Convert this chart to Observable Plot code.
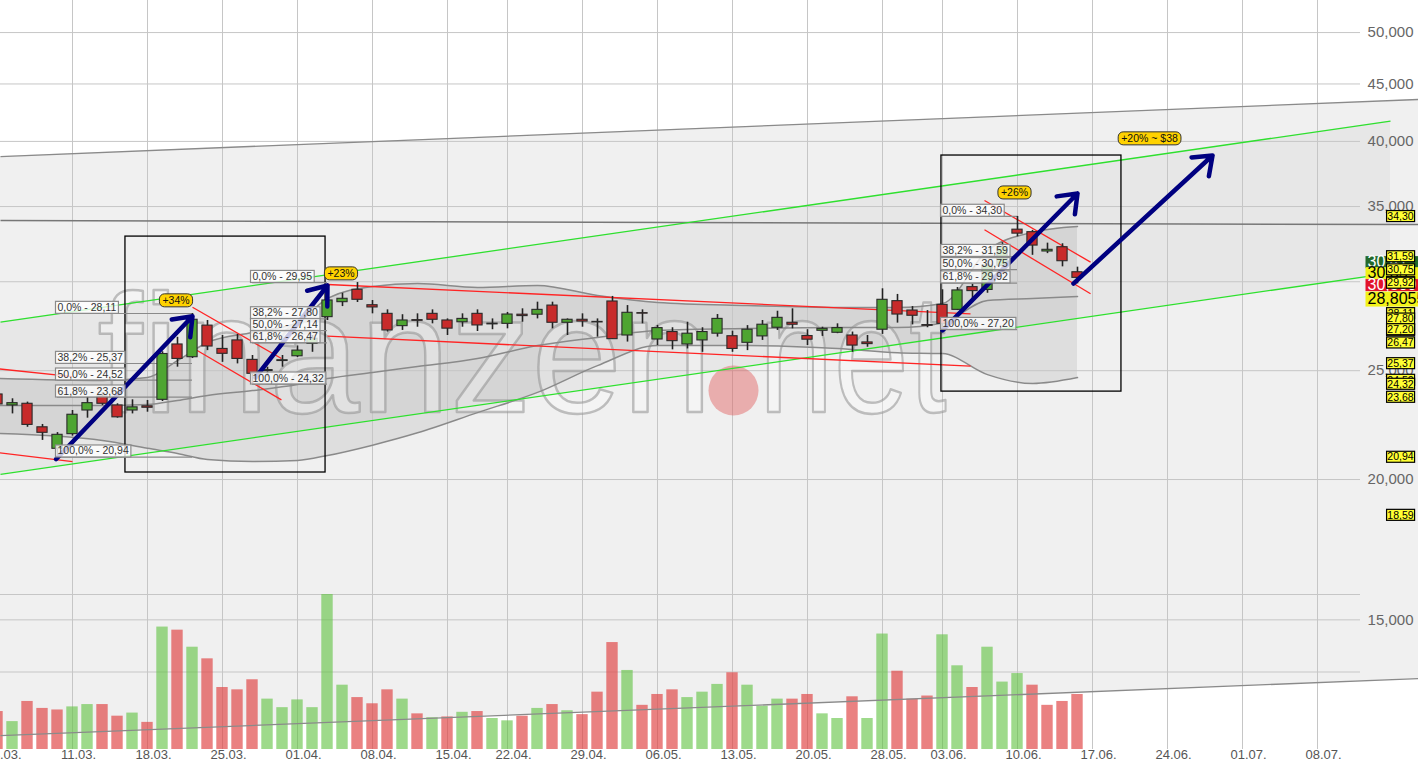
<!DOCTYPE html>
<html><head><meta charset="utf-8">
<script src="https://cdn.jsdelivr.net/npm/d3@7"></script>
<script src="https://cdn.jsdelivr.net/npm/@observablehq/plot@0.6"></script>
<style>
html,body{margin:0;padding:0;background:#fff;}
#chart{position:relative;width:1418px;height:764px;overflow:hidden;}
#chart svg{position:absolute;left:0;top:0;}
</style></head><body><div id="chart"></div>
<script>
// ---------- calendar ----------
const holidays = ["2019-04-19", "2019-05-27"];
const firstDay = "2019-03-04", lastDay = "2019-06-14";
const tickDates = ["2019-03-04","2019-03-11","2019-03-18","2019-03-25","2019-04-01","2019-04-08","2019-04-15","2019-04-22","2019-04-29","2019-05-06","2019-05-13","2019-05-20","2019-05-28","2019-06-03","2019-06-10","2019-06-17","2019-06-24","2019-07-01","2019-07-08"];

// ---------- OHLC + volume (one value per trading day) ----------
const open  = [23.81,23.28,23.36,22.26,21.30,21.95,23.04,23.71,23.28,23.04,23.24,23.55,26.38,25.70,27.42,26.14,26.60,25.56,24.98,25.50,25.75,26.42,27.90,28.77,29.51,28.59,28.09,27.39,27.73,28.09,27.71,27.61,28.09,27.49,27.52,28.04,28.04,28.57,27.58,27.75,27.63,28.81,26.87,28.13,26.65,27.06,26.38,26.60,26.97,26.83,26.47,26.82,27.30,27.58,26.84,27.13,27.02,26.87,26.49,27.19,28.83,28.28,27.45,28.61,28.32,29.67,29.50,31.00,33.38,33.21,31.92,32.20,30.59];
const high  = [23.95,23.60,23.44,22.39,22.02,23.04,23.68,23.90,23.36,23.55,23.52,25.99,26.77,28.11,27.71,26.87,26.93,25.79,25.18,25.79,26.30,26.87,29.07,29.30,29.95,28.87,28.32,28.04,28.09,28.32,27.80,28.09,28.32,27.80,28.17,28.38,28.77,28.77,27.80,28.09,27.80,29.11,28.57,28.32,27.43,27.30,27.61,27.30,28.05,27.11,27.42,27.71,28.24,28.38,27.19,27.33,27.52,27.06,26.87,29.57,29.23,28.51,28.28,29.51,29.65,29.84,31.30,32.50,34.30,33.33,32.47,32.43,30.91];
const low   = [23.23,22.88,22.26,21.67,20.94,21.86,22.68,23.28,22.68,22.88,22.96,23.47,25.18,25.63,26.05,25.43,25.35,24.32,24.68,25.18,25.68,25.96,27.71,28.51,28.75,28.09,27.06,27.15,27.33,27.52,26.87,27.33,27.09,27.19,27.24,27.61,27.80,27.24,26.87,27.33,26.78,26.65,26.51,27.52,26.32,26.09,26.14,25.96,26.78,25.96,26.05,26.60,27.15,27.24,26.32,26.82,26.97,25.96,26.23,26.93,27.56,27.46,27.30,27.20,28.28,28.87,29.30,30.80,32.89,31.67,31.78,30.93,29.87];
const close = [23.33,23.39,22.37,22.01,21.92,22.84,23.39,23.36,22.72,23.19,23.17,25.87,25.61,27.75,26.27,25.88,25.61,24.84,25.03,25.54,26.05,26.69,28.87,28.97,28.91,28.46,27.15,27.71,27.69,27.75,27.25,27.80,27.43,27.53,28.05,27.96,28.32,27.58,27.75,27.65,27.60,26.67,28.15,28.10,27.28,26.56,26.97,27.06,27.80,26.14,27.19,27.47,27.86,27.47,26.64,27.24,27.28,26.32,26.40,28.91,28.05,27.98,27.41,27.52,29.47,29.43,31.00,32.20,33.11,32.31,32.03,31.29,30.24];
const volume = [4.9,3.6,6.2,5.3,5.1,5.5,5.8,5.8,4.3,4.7,3.5,15.8,15.4,13.2,11.7,8.0,7.7,9.0,6.5,5.4,6.4,5.4,20.0,8.3,6.7,5.9,7.7,6.5,4.6,4.1,4.2,4.8,4.9,4.0,3.7,4.3,5.3,5.8,5.0,4.5,7.4,13.8,10.2,5.7,7.1,7.7,6.7,7.4,8.4,9.9,8.3,5.6,6.5,6.5,7.1,4.6,4.0,6.8,4.0,14.9,10.1,6.5,6.9,14.8,10.8,8.0,13.2,8.7,9.8,8.3,5.7,6.2,7.1];

// ---------- Bollinger band (read at knots: trading-day index) ----------
const bbIdx   = [0,7,10,12,14,17,20,22,25,28,32,36,40,44,50,56,60,63,66,69,72];
const bbUpper = [24.60,24.50,24.65,25.52,26.49,27.04,27.59,28.99,29.71,29.89,29.65,29.77,29.16,28.75,28.57,28.46,28.46,28.69,31.99,33.20,33.60];
const bbMid   = [23.28,23.28,23.32,23.52,23.76,24.00,24.30,24.60,24.91,25.21,25.63,26.32,26.76,27.15,27.26,27.31,27.31,27.57,28.87,28.99,29.10];
const bbLower = [21.98,21.67,21.32,21.10,20.84,20.75,20.80,21.01,21.46,22.01,22.94,23.91,25.26,26.32,26.32,26.16,25.94,25.89,24.80,24.35,24.65];

// ---------- drawn trend lines [dayIndex1, price1, dayIndex2, price2] ----------
const grayChannel = [[0.2, 38.78, 94.73, 43.59], [0.2, 11.83, 94.73, 13.30]];
const resistance  = [[0.2, 34.02, 94.73, 33.73]];
const greenChannel = [[0.2, 27.62, 92.87, 41.70], [0.2, 20.21, 92.87, 30.54]];
const redLines = [[0.0, 25.10, 5.0, 24.70],[0.0, 21.14, 5.0, 20.75],[13.0, 28.47, 18.93, 25.63],[13.0, 26.20, 18.93, 23.55],[22.0, 29.83, 64.87, 28.09],[22.0, 26.83, 64.87, 25.23],[65.8, 35.44, 72.87, 31.23],[65.8, 33.37, 72.87, 29.27]];
const arrowLines = [[3.9, 20.85, 13.0, 27.95],[17.2, 24.65, 22.0, 29.77],[63.0, 27.15, 72.0, 35.95],[71.73, 29.89, 81.0, 38.86]];
const boxX1 = [8.53, 62.93], boxX2 = [21.87, 74.93], boxTop = [32.91, 38.86], boxBottom = [20.29, 23.95];

// ---------- Fibonacci retracements ----------
const fibLevels = [0, 38.2, 50, 61.8, 100];
const fibValues = [[28.11,25.37,24.52,23.68,20.94],[29.95,27.80,27.14,26.47,24.32],[34.30,31.59,30.75,29.92,27.20]];
const fibFrom = [4, 17, 63], fibTo = [13, 22, 68];

// ---------- labels ----------
const pctText = ["+34%", "+23%", "+26%", "+20% ~ $38"];
const pctX = [11.9, 22.9, 67.8, 76.8];
const pctY = [28.84, 30.48, 35.98, 40.20];
const extraTag = [18.59];
const bigTagText = ["30,41", "30,35", "30,300", "28,8055"];
const bigTagPos = [31.24, 30.54, 29.80, 28.96];
const bigTagFill = ["#22692b", "#f2f21a", "#e2122a", "#f2f21a"];
const bigTagColor = ["#ffffff", "#000000", "#ffffff", "#000000"];
const priceTicks = [15, 20, 25, 30, 35, 40, 45, 50];
const volumeGrid = [10, 20];

// ---------- build ----------
const FONT = "'Liberation Sans', Arial, Helvetica, sans-serif";
const W = 1418, H = 764;
const X_DOMAIN = [0.2, 90.8667];
const Y_DOMAIN = [11.499, 53.398];
const fmtISO = d3.utcFormat("%Y-%m-%d");
const isWeekday = d => d.getUTCDay() !== 0 && d.getUTCDay() !== 6;
const dates = d3.utcDay.range(new Date(firstDay), d3.utcDay.offset(new Date(lastDay), 1))
  .filter(d => isWeekday(d) && !holidays.includes(fmtISO(d)));
function dayIndex(s) {
  const d = new Date(s);
  const k = dates.findIndex(t => +t === +d);
  if (k >= 0) return k;
  let n = dates.length - 1, cur = dates[dates.length - 1];
  while (cur < d) { cur = d3.utcDay.offset(cur, 1); if (isWeekday(cur)) n++; }
  return n;
}
const rows = dates.map((d, i) => ({
  i, o: open[i], h: high[i], l: low[i], c: close[i], v: volume[i],
  volUp: i === 0 ? close[i] >= open[i] : close[i] >= close[i - 1]
}));
const bb = bbIdx.map((x, k) => ({x, u: bbUpper[k], m: bbMid[k], l: bbLower[k]}));
const seg = a => a.map(([x1, y1, x2, y2]) => ({x1, y1, x2, y2}));
const comma = (v, n) => v.toFixed(n).replace(".", ",");
const fibRows = fibValues.flatMap((vals, s) => vals.map((v, k) => ({
  v, from: fibFrom[s], to: fibTo[s], label: `${comma(fibLevels[k], 1)}% - ${comma(v, 2)}`
})));
const tagValues = fibValues.flat().concat(extraTag);
const tickRows = tickDates.map(s => ({i: dayIndex(s), label: d3.utcFormat("%d.%m.")(new Date(s))}));
const pctRows = pctText.map((t, k) => ({t, x: pctX[k], y: pctY[k]}));
const bigTags = bigTagText.map((t, k) => ({t, pos: bigTagPos[k], color: bigTagColor[k]}));
const boxes = boxX1.map((x1, k) => ({x1, x2: boxX2[k], y1: boxBottom[k], y2: boxTop[k]}));
const chanArea = [{x: grayChannel[0][0], lo: grayChannel[1][1], hi: grayChannel[0][1]}, {x: grayChannel[0][2], lo: grayChannel[1][3], hi: grayChannel[0][3]}];
const greenArea = [{x: greenChannel[0][0], lo: greenChannel[1][1], hi: greenChannel[0][1]}, {x: greenChannel[0][2], lo: greenChannel[1][3], hi: greenChannel[0][3]}];

const GREEN = "#4ea531", RED = "#c82b2b";

function layer(marks, yScale, bg) {
  return Plot.plot({
    width: W, height: H, marginLeft: 0, marginRight: 58, marginTop: 0, marginBottom: 15,
    x: {type: "linear", domain: X_DOMAIN, axis: null},
    y: {...yScale, axis: null},
    color: {type: "identity"},
    style: {fontFamily: FONT, background: bg, overflow: "visible"},
    marks
  });
}
const priceY = {type: "log", domain: Y_DOMAIN};

const layer1 = layer([
  Plot.areaY(chanArea, {x: "x", y1: "lo", y2: "hi", fill: "#f0f0f0"}),
  Plot.areaY(greenArea, {x: "x", y1: "lo", y2: "hi", fill: "#000", fillOpacity: 0.035}),
  Plot.areaY(bb, {x: "x", y1: "l", y2: "u", fill: "#000", fillOpacity: 0.075, curve: "monotone-x"}),
  Plot.ruleX(tickRows, {x: "i", stroke: "#c6c6c6"}),
  Plot.ruleY(priceTicks, {stroke: "#c6c6c6"})
], priceY, "white");

const layer2 = layer([
  Plot.ruleY(volumeGrid, {stroke: "#c6c6c6"}),
  Plot.rect(rows, {x1: d => d.i - 0.38, x2: d => d.i + 0.38, y1: d => 0, y2: "v",
    fill: d => d.volUp ? "#62c444" : "#e04646", fillOpacity: d => d.volUp ? 0.62 : 0.68})
], {type: "linear", domain: [0, 96.65]}, "transparent");

const layer3 = layer([
  // watermark
  Plot.text(["finanzen"], {frameAnchor: "top-left", dx: 97, dy: 411, text: d => d, textAnchor: "start", lineAnchor: "bottom",
    fontSize: 168, fill: "white", fillOpacity: 0.3, stroke: "#8f8f8f", strokeOpacity: 0.55, strokeWidth: 2.5, paintOrder: "fill", ariaDescription: "wm1"}),
  Plot.text(["net"], {frameAnchor: "top-left", dx: 758, dy: 411, text: d => d, textAnchor: "start", lineAnchor: "bottom",
    fontSize: 168, fill: "white", fillOpacity: 0.3, stroke: "#8f8f8f", strokeOpacity: 0.55, strokeWidth: 2.5, paintOrder: "fill", ariaDescription: "wm2"}),
  Plot.dot([0], {frameAnchor: "top-left", dx: 733, dy: 390, r: 25, fill: "#e05a5a", fillOpacity: 0.45, stroke: "none"}),
  // Bollinger lines
  Plot.line(bb, {x: "x", y: "u", stroke: "#8a8a8a", curve: "monotone-x"}),
  Plot.line(bb, {x: "x", y: "m", stroke: "#8a8a8a", curve: "monotone-x"}),
  Plot.line(bb, {x: "x", y: "l", stroke: "#8a8a8a", curve: "monotone-x"}),
  // trend lines
  Plot.link(seg(grayChannel), {x1: "x1", y1: "y1", x2: "x2", y2: "y2", stroke: "#8a8a8a", strokeWidth: 1.3}),
  Plot.link(seg(resistance), {x1: "x1", y1: "y1", x2: "x2", y2: "y2", stroke: "#777", strokeWidth: 1.5}),
  Plot.link(seg(greenChannel), {x1: "x1", y1: "y1", x2: "x2", y2: "y2", stroke: "#2ee02e", strokeWidth: 1.3}),
  Plot.link(seg(redLines), {x1: "x1", y1: "y1", x2: "x2", y2: "y2", stroke: "#ff2424", strokeWidth: 1.3}),
  Plot.rect(boxes, {x1: "x1", x2: "x2", y1: "y1", y2: "y2", fill: "none", stroke: "#000", strokeWidth: 1.3}),
  // fib lines
  Plot.ruleY(fibRows, {y: "v", x1: "from", x2: "to", stroke: "#8a8a8a", strokeWidth: 1.2}),
  // candles
  Plot.ruleX(rows, {x: "i", y1: "l", y2: "h", stroke: "#222", strokeWidth: 1.6}),
  Plot.rect(rows, {x1: d => d.i - 0.34, x2: d => d.i + 0.34, y1: "o", y2: "c",
    fill: d => d.c >= d.o ? GREEN : RED, stroke: "#2a2a2a", strokeWidth: 1.1}),
  // arrows
  Plot.arrow(seg(arrowLines), {x1: "x1", y1: "y1", x2: "x2", y2: "y2", stroke: "#000080", strokeWidth: 4.5,
    headAngle: 75, headLength: 7, strokeLinecap: "round", strokeLinejoin: "round"}),
  // fib labels
  Plot.text(fibRows, {x: "from", y: "v", text: "label", textAnchor: "start", dy: -6, fontSize: 10.5, fill: "#333", ariaDescription: "fib-label"}),
  // percent labels
  Plot.text(pctRows, {x: "x", y: "y", text: "t", fontSize: 10.5, fill: "#111", ariaDescription: "pct-label"}),
  // right price axis
  Plot.text(priceTicks, {y: d => d, text: d => comma(d, 3), frameAnchor: "right", dx: 53, textAnchor: "end", fontSize: 15, fill: "#666"}),
  // right tags
  Plot.text(bigTags, {y: "pos", text: "t", frameAnchor: "right", dx: 7, textAnchor: "start", fontSize: 16, fill: "color", ariaDescription: "big-tag"}),
  Plot.text(tagValues, {y: d => d, text: d => comma(d, 2), frameAnchor: "right", dx: 40, textAnchor: "middle", fontSize: 10.5, fill: "#000", ariaDescription: "y-tag"}),
  // x axis labels
  Plot.text(tickRows, {x: "i", text: "label", frameAnchor: "bottom", dy: 9, dx: 6, fontSize: 13, fill: "#555"})
], priceY, "transparent");

const chart = document.getElementById("chart");
[layer1, layer2, layer3].forEach(s => chart.appendChild(s));

function groupTexts(svg, name) {
  return svg.querySelectorAll(`g[aria-description="${name}"] text`);
}
function boxify(svg, name, style) {
  const NS = "http://www.w3.org/2000/svg";
  groupTexts(svg, name).forEach((t, k) => {
    const s = typeof style === "function" ? style(k) : style;
    const b = t.getBBox();
    const w = s.width ?? (b.width + 2 * s.padX);
    const h = s.height ?? b.height;
    const x = s.align === "left" ? b.x - s.padX : b.x + b.width / 2 - w / 2;
    const y = b.y + b.height / 2 - h / 2 + (s.shiftY || 0);
    const r = document.createElementNS(NS, "rect");
    r.setAttribute("x", x); r.setAttribute("y", y);
    r.setAttribute("width", w); r.setAttribute("height", h);
    r.setAttribute("rx", s.rx || 0);
    r.setAttribute("fill", s.fill);
    r.setAttribute("fill-opacity", s.fillOpacity ?? 1);
    r.setAttribute("stroke", s.stroke || "none");
    r.setAttribute("stroke-width", s.strokeWidth ?? 1);
    const tr = t.getAttribute("transform");
    if (tr) r.setAttribute("transform", tr);
    t.parentNode.insertBefore(r, t);
  });
}
groupTexts(layer3, "wm1").forEach(t => { t.setAttribute("textLength", 615); t.setAttribute("lengthAdjust", "spacingAndGlyphs"); });
groupTexts(layer3, "wm2").forEach(t => { t.setAttribute("textLength", 188); t.setAttribute("lengthAdjust", "spacingAndGlyphs"); });
boxify(layer3, "fib-label", {padX: 2, height: 12, fill: "#fff", fillOpacity: 0.78, stroke: "#8a8a8a", strokeWidth: 1.2, shiftY: 0.5});
boxify(layer3, "pct-label", {padX: 3, height: 13, rx: 5, fill: "#ffd200", stroke: "#333"});
boxify(layer3, "big-tag", k => ({align: "left", padX: 2, width: 62, height: k === 3 ? 15 : 12, fill: bigTagFill[k], stroke: "none", shiftY: 0.5}));
boxify(layer3, "y-tag", {width: 28, height: 11, fill: "#ffff33", stroke: "#000", strokeWidth: 1.2, shiftY: 0.3});
</script>
</body></html>
